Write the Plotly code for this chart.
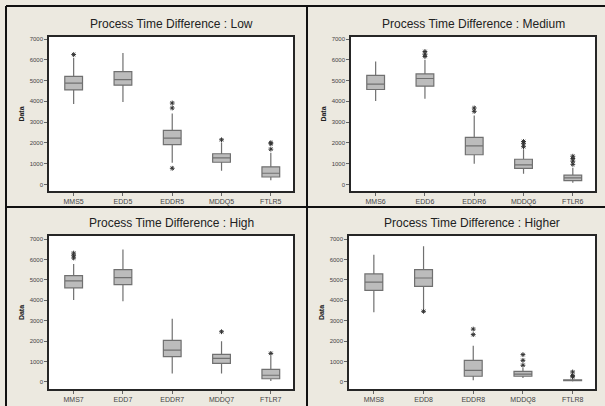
import plotly.graph_objects as go

# ---------------- data ----------------
titles = ["Process Time Difference : Low", "Process Time Difference : Medium",
          "Process Time Difference : High", "Process Time Difference : Higher"]

cats_low = ["MMS5", "EDD5", "EDDR5", "MDDQ5", "FTLR5"]
q1_low = [4550, 4780, 1920, 1070, 360]
med_low = [4880, 5050, 2230, 1280, 540]
q3_low = [5200, 5430, 2600, 1480, 850]
lo_low = [3870, 3970, 1050, 660, 200]
hi_low = [6100, 6330, 3420, 2020, 1530]
out_x_low = ["MMS5", "EDDR5", "EDDR5", "EDDR5", "MDDQ5", "FTLR5", "FTLR5", "FTLR5"]
out_y_low = [6250, 3920, 3680, 780, 2150, 2010, 1960, 1700]

cats_med = ["MMS6", "EDD6", "EDDR6", "MDDQ6", "FTLR6"]
q1_med = [4570, 4730, 1430, 780, 190]
med_med = [4830, 5100, 1860, 940, 320]
q3_med = [5250, 5320, 2270, 1215, 450]
lo_med = [4020, 4130, 1000, 520, 80]
hi_med = [5915, 6000, 3320, 1700, 810]
out_x_med = ["EDD6", "EDD6", "EDD6", "EDDR6", "EDDR6", "MDDQ6", "MDDQ6", "MDDQ6",
             "FTLR6", "FTLR6", "FTLR6", "FTLR6"]
out_y_med = [6400, 6270, 6160, 3680, 3520, 2070, 1980, 1820, 1360, 1250, 1120, 970]

cats_high = ["MMS7", "EDD7", "EDDR7", "MDDQ7", "FTLR7"]
q1_high = [4610, 4770, 1240, 910, 160]
med_high = [4950, 5110, 1560, 1160, 330]
q3_high = [5210, 5500, 2040, 1350, 620]
lo_high = [4010, 3950, 420, 420, 50]
hi_high = [5780, 6480, 3090, 2000, 1270]
out_x_high = ["MMS7", "MMS7", "MMS7", "MDDQ7", "FTLR7"]
out_y_high = [6310, 6180, 6070, 2460, 1400]

cats_higher = ["MMS8", "EDD8", "EDDR8", "MDDQ8", "FTLR8"]
q1_higher = [4490, 4680, 280, 280, 60]
med_higher = [4890, 5090, 570, 390, 80]
q3_higher = [5290, 5500, 1060, 520, 110]
lo_higher = [3410, 3570, 80, 200, 30]
hi_higher = [6230, 6640, 1780, 690, 200]
out_x_higher = ["EDD8", "EDDR8", "EDDR8", "MDDQ8", "MDDQ8", "MDDQ8", "FTLR8", "FTLR8", "FTLR8"]
out_y_higher = [3460, 2590, 2320, 1340, 1060, 820, 490, 310, 260]

y_ticks = [0, 1000, 2000, 3000, 4000, 5000, 6000, 7000]

# ---------------- figure ----------------
W, H = 605, 406
BG = "#ece9e0"
BOX_FILL = "#bcbcbc"
BOX_LINE = "#707070"
FONT = "Liberation Sans, Arial, sans-serif"

panels = [
    (titles[0], cats_low, q1_low, med_low, q3_low, lo_low, hi_low, out_x_low, out_y_low,
     (49, 293), (37, 191), (-313, 7096)),
    (titles[1], cats_med, q1_med, med_med, q3_med, lo_med, hi_med, out_x_med, out_y_med,
     (351, 595), (37, 191), (-313, 7096)),
    (titles[2], cats_high, q1_high, med_high, q3_high, lo_high, hi_high, out_x_high, out_y_high,
     (49, 293), (236, 389), (-343, 7147)),
    (titles[3], cats_higher, q1_higher, med_higher, q3_higher, lo_higher, hi_higher,
     out_x_higher, out_y_higher, (349, 595), (236, 389), (-343, 7147)),
]

fig = go.Figure()
annotations = []
for i, (title, cats, q1, med, q3, lo, hi, ox, oy, xpx, ypx, yr) in enumerate(panels):
    n = "" if i == 0 else str(i + 1)
    xa, ya = "x" + n, "y" + n
    fig.add_trace(go.Box(
        x=cats, q1=q1, median=med, q3=q3, lowerfence=lo, upperfence=hi,
        boxpoints=False, width=0.36, fillcolor=BOX_FILL,
        line=dict(color=BOX_LINE, width=1.2), whiskerwidth=0,
        xaxis=xa, yaxis=ya, showlegend=False, hoverinfo="skip"))
    fig.add_trace(go.Scatter(
        x=ox, y=oy, mode="markers",
        marker=dict(symbol="asterisk-open", size=4, color="#333",
                    line=dict(color="#333", width=1)),
        xaxis=xa, yaxis=ya, showlegend=False, hoverinfo="skip"))
    xd = [xpx[0] / W, xpx[1] / W]
    yd = [1 - ypx[1] / H, 1 - ypx[0] / H]
    fig.layout["xaxis" + n] = dict(
        domain=xd, anchor=ya, type="category", categoryorder="array",
        categoryarray=cats, range=[-0.5, 4.45], showgrid=False, zeroline=False,
        showline=True, mirror=True, linecolor="#262626", linewidth=1.5,
        ticks="outside", ticklen=3, tickwidth=1, tickcolor="#666",
        tickfont=dict(family=FONT, size=7, color="#444"))
    fig.layout["yaxis" + n] = dict(
        domain=yd, anchor=xa, range=list(yr), tickvals=y_ticks,
        showgrid=False, zeroline=False,
        showline=True, mirror=True, linecolor="#262626", linewidth=1.5,
        ticks="outside", ticklen=3, tickwidth=1, tickcolor="#666",
        tickfont=dict(family=FONT, size=6, color="#444"),
        title=dict(text="<b>Data</b>", font=dict(family=FONT, size=7, color="#222"),
                   standoff=4))
    annotations.append(dict(
        text=title, xref="paper", yref="paper",
        x=(xpx[0] + xpx[1]) / 2 / W, y=1 - (ypx[0] - 13) / H,
        xanchor="center", yanchor="middle", showarrow=False,
        font=dict(family=FONT, size=12, color="#222")))

# panel separator lines (decorative frame of the original screenshot)
line_style = dict(color="#111", width=2)
shapes = [
    dict(type="line", xref="paper", yref="paper", x0=6 / W, x1=1, y0=1 - 6 / H, y1=1 - 6 / H, line=line_style),
    dict(type="line", xref="paper", yref="paper", x0=6 / W, x1=6 / W, y0=0, y1=1 - 6 / H, line=line_style),
    dict(type="line", xref="paper", yref="paper", x0=307 / W, x1=307 / W, y0=0, y1=1 - 6 / H, line=line_style),
    dict(type="line", xref="paper", yref="paper", x0=6 / W, x1=1, y0=1 - 207 / H, y1=1 - 207 / H, line=line_style),
]

fig.update_layout(
    width=W, height=H, margin=dict(l=0, r=0, t=0, b=0),
    paper_bgcolor=BG, plot_bgcolor="white",
    annotations=annotations, shapes=shapes, showlegend=False,
    font=dict(family=FONT),
)

fig.write_html("out.html", config={"displayModeBar": False},
               post_script="document.body.style.margin='0';document.body.style.overflow='hidden';")
